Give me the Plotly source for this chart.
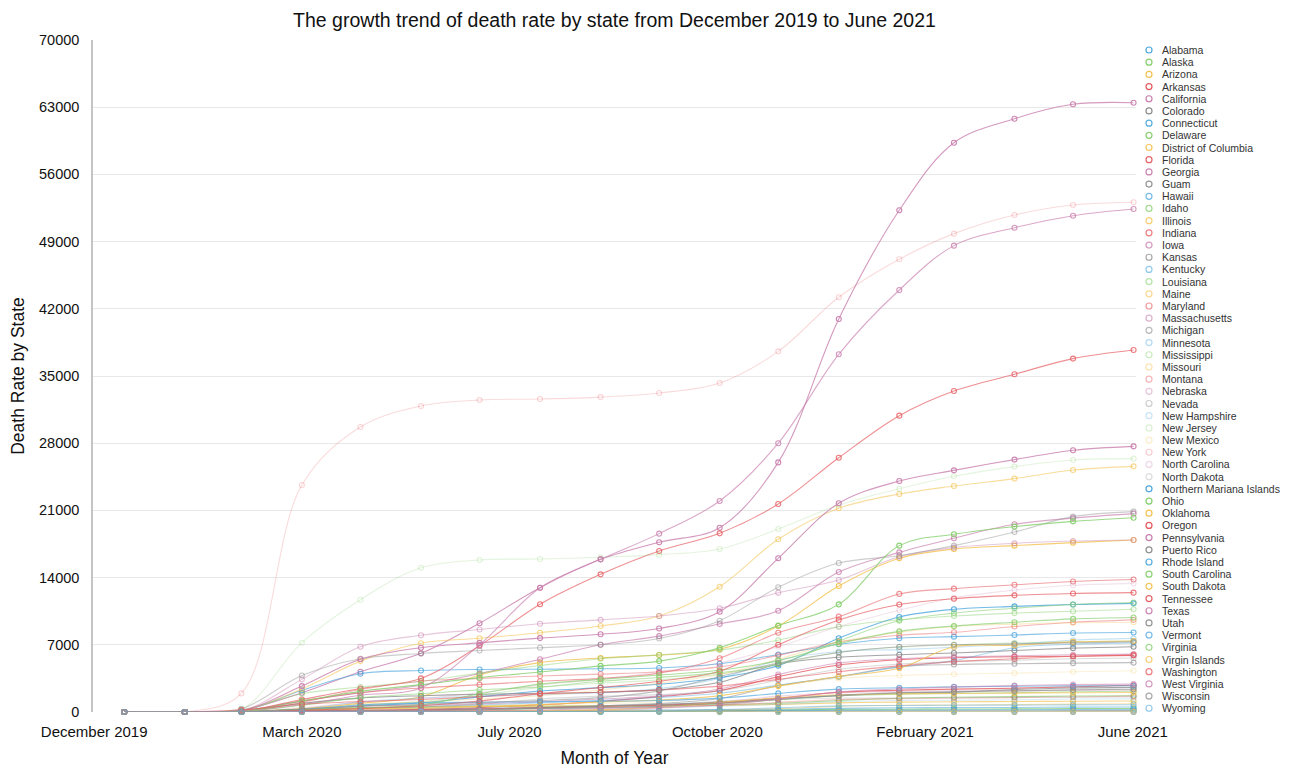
import pandas as pd
import plotly.graph_objects as go

states = ["Alabama", "Alaska", "Arizona", "Arkansas", "California", "Colorado", "Connecticut",
          "Delaware", "District of Columbia", "Florida", "Georgia", "Guam", "Hawaii", "Idaho",
          "Illinois", "Indiana", "Iowa", "Kansas", "Kentucky", "Louisiana", "Maine", "Maryland",
          "Massachusetts", "Michigan", "Minnesota", "Mississippi", "Missouri", "Montana",
          "Nebraska", "Nevada", "New Hampshire", "New Jersey", "New Mexico", "New York",
          "North Carolina", "North Dakota", "Northern Mariana Islands", "Ohio", "Oklahoma",
          "Oregon", "Pennsylvania", "Puerto Rico", "Rhode Island", "South Carolina",
          "South Dakota", "Tennessee", "Texas", "Utah", "Vermont", "Virginia", "Virgin Islands",
          "Washington", "West Virginia", "Wisconsin", "Wyoming"]

months = pd.date_range("2020-01-01", periods=18, freq="MS")

alabama = [0, 0, 13, 272, 630, 950, 1580, 2180, 2540, 2890, 3570, 4830, 7690, 9900, 10700, 11000, 11200, 11320]
alaska = [0, 0, 3, 9, 10, 12, 21, 33, 53, 80, 125, 199, 270, 290, 305, 322, 350, 370]
arizona = [0, 0, 24, 330, 920, 1590, 3850, 5140, 5630, 5930, 6530, 8960, 13120, 16010, 16980, 17330, 17640, 17920]
arkansas = [0, 0, 8, 45, 120, 270, 450, 750, 1100, 1600, 2240, 3680, 4900, 5450, 5650, 5760, 5810, 5900]
california = [0, 0, 190, 2000, 4200, 6110, 9240, 12950, 15900, 17680, 19200, 26000, 40940, 52260, 59300, 61800, 63300, 63470]
colorado = [0, 0, 70, 900, 1450, 1700, 1850, 1950, 2060, 2300, 3100, 5000, 5700, 5970, 6150, 6400, 6650, 6800]
connecticut = [0, 0, 70, 2260, 3990, 4320, 4430, 4460, 4500, 4590, 5020, 5990, 7050, 7680, 7850, 8020, 8230, 8280]
delaware = [0, 0, 10, 160, 360, 500, 590, 600, 640, 690, 770, 900, 1200, 1440, 1540, 1600, 1660, 1690]
district_of_columbia = [0, 0, 10, 250, 460, 550, 585, 605, 630, 650, 680, 780, 950, 1030, 1060, 1090, 1125, 1140]
florida = [0, 0, 85, 1300, 2450, 3500, 6910, 11220, 14340, 16770, 18610, 21670, 26490, 30870, 33440, 35180, 36810, 37710]
georgia = [0, 0, 125, 1130, 2000, 2780, 4000, 5500, 7000, 7900, 9170, 10550, 14580, 16630, 18100, 19550, 20200, 20660]
guam = [0, 0, 1, 5, 5, 5, 5, 30, 60, 100, 115, 125, 130, 133, 135, 136, 139, 140]
hawaii = [0, 0, 0, 15, 17, 18, 26, 100, 180, 215, 250, 285, 380, 450, 465, 475, 505, 515]
idaho = [0, 0, 9, 60, 80, 90, 180, 360, 470, 650, 880, 1270, 1700, 1860, 1940, 2010, 2110, 2160]
illinois = [0, 0, 100, 2400, 5300, 7160, 7680, 8260, 8960, 10000, 13050, 17990, 21220, 22710, 23540, 24310, 25210, 25590]
indiana = [0, 0, 80, 1150, 2000, 2500, 2850, 3200, 3500, 4050, 5600, 8260, 9930, 12300, 12850, 13250, 13600, 13800]
iowa = [0, 0, 5, 150, 600, 700, 850, 1050, 1350, 1650, 2400, 3900, 5100, 5550, 5750, 5850, 5960, 6030]
kansas = [0, 0, 5, 120, 200, 270, 370, 480, 650, 900, 1400, 2750, 3700, 4700, 4950, 5030, 5090, 5140]
kentucky = [0, 0, 20, 240, 420, 560, 720, 950, 1200, 1520, 1950, 2800, 3650, 4700, 5350, 6700, 7050, 7200]
louisiana = [0, 0, 240, 1900, 2600, 3200, 4050, 4850, 5550, 5950, 6450, 7480, 8890, 9600, 10000, 10300, 10500, 10700]
maine = [0, 0, 3, 50, 90, 105, 125, 135, 140, 150, 215, 350, 590, 700, 730, 770, 820, 860]
maryland = [0, 0, 30, 1000, 2350, 3200, 3500, 3750, 3950, 4200, 4700, 5900, 7300, 8000, 8300, 8900, 9350, 9600]
massachusetts = [0, 0, 90, 3400, 6800, 8000, 8600, 9200, 9600, 10000, 10800, 12430, 13750, 16180, 17120, 17570, 17810, 17920]
michigan = [0, 0, 340, 3800, 5550, 6100, 6400, 6700, 7000, 7650, 9510, 12990, 15520, 16280, 17330, 18750, 20350, 20870]
minnesota = [0, 0, 20, 340, 1050, 1450, 1630, 1800, 2000, 2450, 3500, 5400, 6300, 6500, 6750, 7050, 7480, 7670]
mississippi = [0, 0, 20, 260, 700, 1100, 1750, 2550, 3000, 3350, 3950, 5000, 6200, 6750, 7000, 7200, 7300, 7400]
missouri = [0, 0, 20, 380, 800, 1050, 1350, 1700, 2300, 3000, 3900, 5500, 7300, 8300, 8900, 9150, 9300, 9350]
montana = [0, 0, 6, 16, 17, 22, 60, 100, 190, 400, 700, 1000, 1300, 1380, 1430, 1500, 1560, 1650]
nebraska = [0, 0, 5, 70, 200, 280, 340, 400, 480, 700, 1050, 1650, 2000, 2150, 2200, 2230, 2260, 2280]
nevada = [0, 0, 40, 270, 420, 510, 850, 1350, 1650, 1810, 2200, 3300, 4450, 5000, 5250, 5400, 5540, 5630]
new_hampshire = [0, 0, 3, 90, 320, 380, 420, 430, 440, 480, 600, 800, 1080, 1200, 1230, 1280, 1350, 1370]
new_jersey = [0, 0, 270, 7220, 11700, 15030, 15830, 15940, 16110, 16390, 16980, 19060, 21560, 23260, 24550, 25560, 26250, 26390]
new_mexico = [0, 0, 3, 120, 320, 530, 670, 780, 890, 1070, 1700, 2700, 3500, 3800, 3940, 4050, 4190, 4300]
new_york = [0, 0, 1940, 23650, 29690, 31880, 32500, 32600, 32800, 33230, 34270, 37570, 43200, 47160, 49830, 51770, 52810, 53100]
north_carolina = [0, 0, 15, 470, 1000, 1400, 2000, 2800, 3400, 4200, 5100, 6800, 8900, 10600, 11900, 12700, 13200, 13400]
north_dakota = [0, 0, 3, 20, 60, 80, 110, 150, 260, 600, 1150, 1300, 1450, 1480, 1500, 1520, 1540, 1550]
northern_mariana_islands = [0, 0, 1, 2, 2, 2, 2, 2, 2, 2, 2, 2, 2, 2, 2, 2, 2, 2]
ohio = [0, 0, 65, 1140, 2150, 2850, 3580, 4160, 4800, 5300, 6700, 9000, 11210, 17330, 18510, 19310, 19860, 20240]
oklahoma = [0, 0, 30, 240, 330, 390, 570, 770, 1050, 1250, 1700, 2700, 3700, 4550, 6800, 6950, 7300, 7400]
oregon = [0, 0, 20, 110, 150, 200, 320, 450, 580, 720, 950, 1450, 2050, 2260, 2380, 2480, 2620, 2780]
pennsylvania = [0, 0, 100, 2700, 5500, 6700, 7200, 7700, 8100, 8700, 10450, 16010, 21740, 24060, 25170, 26290, 27260, 27670]
puerto_rico = [0, 0, 8, 100, 130, 150, 220, 430, 610, 790, 1030, 1400, 1700, 1980, 2060, 2350, 2500, 2560]
rhode_island = [0, 0, 10, 270, 730, 960, 1010, 1070, 1130, 1200, 1450, 1940, 2380, 2530, 2620, 2680, 2720, 2730]
south_carolina = [0, 0, 20, 270, 440, 740, 1900, 2900, 3400, 3850, 4350, 5350, 7100, 8400, 8950, 9350, 9700, 9850]
south_dakota = [0, 0, 3, 10, 60, 90, 130, 170, 250, 500, 990, 1490, 1790, 1890, 1930, 1970, 2010, 2030]
tennessee = [0, 0, 20, 200, 350, 650, 1150, 1900, 2550, 3200, 4250, 7000, 9580, 11200, 11800, 12150, 12350, 12430]
texas = [0, 0, 50, 750, 1750, 2500, 7000, 12950, 15900, 18580, 21980, 28000, 37260, 43960, 48580, 50450, 51700, 52400]
utah = [0, 0, 3, 50, 100, 160, 280, 380, 440, 600, 910, 1300, 1750, 2000, 2120, 2200, 2300, 2370]
vermont = [0, 0, 13, 50, 55, 56, 57, 58, 58, 58, 74, 140, 185, 205, 220, 235, 255, 257]
virginia = [0, 0, 40, 700, 1500, 1900, 2300, 2600, 3200, 3600, 4100, 5000, 7400, 9500, 10300, 10800, 11200, 11400]
virgin_islands = [0, 0, 0, 4, 6, 6, 8, 13, 19, 21, 23, 24, 25, 25, 26, 27, 28, 29]
washington = [0, 0, 230, 800, 1100, 1300, 1600, 1900, 2050, 2300, 2700, 3400, 4200, 4800, 5250, 5550, 5800, 5950]
west_virginia = [0, 0, 0, 40, 70, 90, 140, 210, 370, 480, 750, 1350, 2100, 2400, 2600, 2750, 2850, 2900]
wisconsin = [0, 0, 30, 300, 600, 800, 1000, 1200, 1500, 2200, 3700, 5100, 6200, 6800, 7000, 7100, 7200, 7300]
wyoming = [0, 0, 0, 7, 17, 20, 26, 40, 57, 120, 260, 440, 640, 680, 700, 720, 740, 760]

series = [alabama, alaska, arizona, arkansas, california, colorado, connecticut, delaware,
          district_of_columbia, florida, georgia, guam, hawaii, idaho, illinois, indiana, iowa,
          kansas, kentucky, louisiana, maine, maryland, massachusetts, michigan, minnesota,
          mississippi, missouri, montana, nebraska, nevada, new_hampshire, new_jersey, new_mexico,
          new_york, north_carolina, north_dakota, northern_mariana_islands, ohio, oklahoma, oregon,
          pennsylvania, puerto_rico, rhode_island, south_carolina, south_dakota, tennessee, texas,
          utah, vermont, virginia, virgin_islands, washington, west_virginia, wisconsin, wyoming]

x_tick_labels = ["December 2019", "March 2020", "July 2020", "October 2020", "February 2021", "June 2021"]
y_ticks = list(range(0, 70001, 7000))

base_hues = [(79, 168, 222), (134, 207, 110), (243, 194, 80), (230, 90, 95), (201, 127, 174), (142, 142, 142)]
alphas = [1.0, 0.85, 0.7, 0.55, 0.4, 0.27]


def color_for(i, scale=1.0):
    r, g, b = base_hues[i % 6]
    a = min(1.0, alphas[(i // 6) % 6] * scale)
    return f"rgba({r},{g},{b},{a:.2f})"


fig = go.Figure()
for i, (name, vals) in enumerate(zip(states, series)):
    lc = color_for(i, 0.8)
    mc = color_for(i, 0.95)
    fig.add_trace(go.Scatter(
        x=months, y=vals, name=name, mode="lines+markers",
        line=dict(color=lc, width=1.1, shape="spline", smoothing=1.0),
        marker=dict(symbol="circle-open", size=5, color=mc, line=dict(width=1.1, color=mc)),
        cliponaxis=False, showlegend=False,
    ))

# axis ticks (evenly spaced date positions)
step = pd.Timedelta(days=106.4)
anchor = pd.Timestamp("2020-04-01")
tick_pos = [anchor - step + k * step for k in range(len(x_tick_labels))]

# page body has an 8px margin: figure coordinates = screen coordinates - 8
W, H = 1287, 761
L, R, T, B = 85, 1128, 32, 704

fig.update_xaxes(
    type="date", range=[pd.Timestamp("2019-12-16"), pd.Timestamp("2021-06-02 06:00")],
    tickvals=tick_pos, ticktext=x_tick_labels, showgrid=False, zeroline=False,
    showline=False, ticks="outside", ticklen=6, tickcolor="rgba(0,0,0,0)",
    tickfont=dict(size=15, color="#111"), automargin=False,
    title=dict(text="Month of Year", font=dict(size=17.5, color="#111"), standoff=12),
)
fig.update_yaxes(
    range=[0, 70000], tickvals=y_ticks, ticktext=[str(v) for v in y_ticks],
    showgrid=True, gridcolor="#e8e8e8", gridwidth=1, zeroline=False,
    showline=True, linecolor="#c4c4c4", linewidth=1.5,
    ticks="outside", ticklen=9, tickcolor="rgba(0,0,0,0)",
    tickfont=dict(size=14.5, color="#111"), automargin=False,
    title=dict(text="Death Rate by State", font=dict(size=17.5, color="#111"), standoff=10),
)

# custom legend
pw, ph = R - L, B - T
shapes, annotations = [], []
for i, name in enumerate(states):
    py = 42 + i * 12.19
    yp = (B - py) / ph
    xm = (1141 - L) / pw
    xt = (1152 - L) / pw
    shapes.append(dict(type="circle", xref="paper", yref="paper", xsizemode="pixel", ysizemode="pixel",
                       xanchor=xm, yanchor=yp, x0=-3, x1=3, y0=-3, y1=3,
                       line=dict(color=color_for(i, 1.1), width=1.2), fillcolor="rgba(0,0,0,0)"))
    annotations.append(dict(xref="paper", yref="paper", x=xt, y=yp, text=name, showarrow=False,
                            xanchor="left", yanchor="middle", font=dict(size=10.5, color="#333")))

fig.update_layout(
    width=W, height=H,
    margin=dict(l=L, r=W - R, t=T, b=H - B, autoexpand=False),
    plot_bgcolor="white", paper_bgcolor="white",
    font=dict(family="Liberation Sans, Arial, sans-serif", color="#111"),
    title=dict(text="The growth trend of death rate by state from December 2019 to June 2021",
               x=0.5, xref="paper", y=1 - 12 / H, yref="container", yanchor="middle",
               font=dict(size=19.5, color="#111")),
    showlegend=False, shapes=shapes, annotations=annotations,
    hovermode="closest",
)

fig.write_html("out.html")
